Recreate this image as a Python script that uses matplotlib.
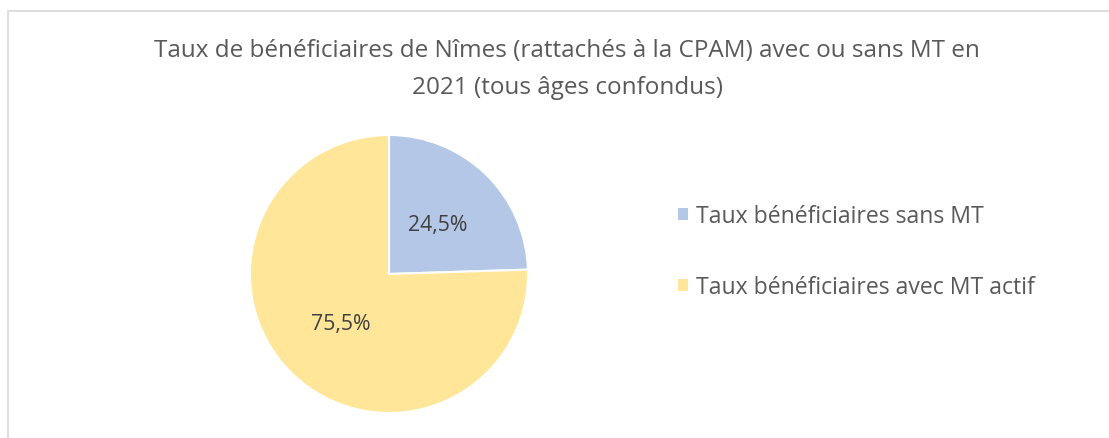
import matplotlib.pyplot as plt
from matplotlib.patches import Patch, Rectangle

plt.rcParams['font.family'] = ['Open Sans', 'DejaVu Sans']

labels = ["Taux bénéficiaires sans MT", "Taux bénéficiaires avec MT actif"]
values = [24.5, 75.5]
colors = ["#B4C7E7", "#FFE699"]
title = "Taux de bénéficiaires de Nîmes (rattachés à la CPAM) avec ou sans MT en\n2021 (tous âges confondus)"
text_color = "#595959"

W, H = 1109, 439
fig = plt.figure(figsize=(W / 100, H / 100), dpi=100)

# chart border (only left/top/right visible)
fig.patches.append(Rectangle((8 / W, -0.1), 1.2, 1 - 12 / H + 0.1, transform=fig.transFigure,
                             fill=False, edgecolor="#D9D9D9", linewidth=1.2))

cx, cy, r = 389, 275, 139
ax = fig.add_axes([(cx - r) / W, (H - cy - r) / H, 2 * r / W, 2 * r / H])
wedges, texts, autotexts = ax.pie(values, colors=colors, startangle=90, counterclock=False,
                                  autopct=lambda p: f"{p:.1f}%".replace(".", ","),
                                  pctdistance=0.5, radius=1,
                                  wedgeprops=dict(edgecolor="white", linewidth=1.5),
                                  textprops=dict(color="#404040", fontsize=15.3))
ax.set_xlim(-1, 1)
ax.set_ylim(-1, 1)
ax.set_aspect("equal")
ax.axis("off")

fig.text(567 / W, 1 - 39 / H, title, ha="center", va="top", fontsize=17.5,
         color=text_color, linespacing=1.72)

handles = [Patch(facecolor=c, edgecolor="none") for c in colors]
leg = fig.legend(handles, labels, loc="upper left", bbox_to_anchor=(678 / W, 1 - 205 / H),
                 frameon=False, fontsize=16.6, labelspacing=2.05, handlelength=0.42,
                 handleheight=0.42, handletextpad=0.35, borderpad=0, borderaxespad=0)
for t in leg.get_texts():
    t.set_color(text_color)

fig.savefig("out.png", dpi=100)
